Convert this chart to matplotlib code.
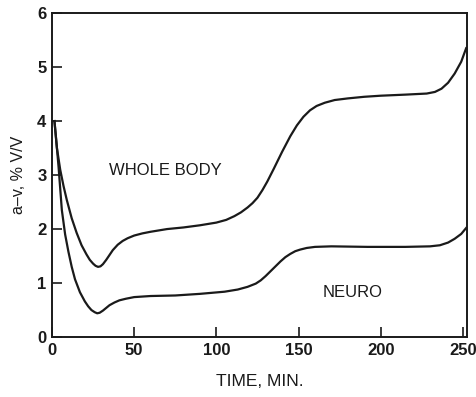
import matplotlib
matplotlib.use('Agg')
import matplotlib.pyplot as plt

# values
whole_t = [1.5, 3, 5, 7, 9, 12, 15, 18, 21, 23, 25, 26.5, 28, 29.5, 31, 33, 35, 37,
           40, 43, 46, 50, 55, 60, 70, 80, 90, 100, 106, 111, 115, 119, 122, 125,
           128, 131, 135, 140, 145, 149, 153, 157, 161, 166, 172, 180, 190, 200,
           215, 228, 233, 237, 241, 245, 249, 252]
whole_av = [4.0, 3.5, 3.1, 2.8, 2.54, 2.2, 1.93, 1.7, 1.53, 1.43, 1.36, 1.32, 1.3, 1.31,
            1.35, 1.43, 1.52, 1.61, 1.71, 1.78, 1.83, 1.88, 1.92, 1.95, 2.0, 2.03,
            2.07, 2.12, 2.17, 2.24, 2.31, 2.4, 2.48, 2.58, 2.72, 2.88, 3.12, 3.43,
            3.72, 3.92, 4.08, 4.2, 4.28, 4.34, 4.39, 4.42, 4.45, 4.47, 4.49, 4.51,
            4.54, 4.6, 4.71, 4.88, 5.1, 5.35]

neuro_t = [1.5, 3, 4, 6, 8, 10, 12, 14, 17, 20, 22, 24, 26, 27.5, 29, 31, 33, 35, 38,
           41, 45, 50, 60, 75, 90, 105, 113, 119, 124, 127, 130, 133, 136, 139, 142,
           145, 148, 151, 155, 160, 170, 192, 215, 230, 236, 241, 245, 249, 252]
neuro_av = [4.0, 3.5, 3.15, 2.35, 1.9, 1.58, 1.3, 1.07, 0.83, 0.66, 0.57, 0.5, 0.46,
            0.44, 0.45, 0.49, 0.54, 0.59, 0.64, 0.68, 0.71, 0.74, 0.76, 0.77, 0.8,
            0.84, 0.88, 0.93, 0.99, 1.05, 1.13, 1.22, 1.31, 1.4, 1.48, 1.54, 1.59,
            1.62, 1.65, 1.67, 1.68, 1.67, 1.67, 1.68, 1.7, 1.75, 1.82, 1.91, 2.02]

x_ticks = [0, 50, 100, 150, 200, 250]
y_ticks = [0, 1, 2, 3, 4, 5, 6]

plt.rcParams['font.family'] = ['Liberation Sans', 'DejaVu Sans']

fig = plt.figure(figsize=(4.77, 3.97), dpi=100)
ax = fig.add_axes([0.109, 0.151, 0.870, 0.816])

ax.plot(whole_t, whole_av, color='#1a1a1a', lw=1.6, solid_joinstyle='round')
ax.plot(neuro_t, neuro_av, color='#1a1a1a', lw=1.6, solid_joinstyle='round')

ax.set_xlim(0, 252.5)
ax.set_ylim(0, 6)
ax.set_xticks(x_ticks)
ax.set_yticks(y_ticks)
ax.tick_params(direction='in', length=7, width=1.2, labelsize=12, colors='#1a1a1a', pad=4)
for lab in ax.get_xticklabels() + ax.get_yticklabels():
    lab.set_fontweight('bold')
for s in ax.spines.values():
    s.set_linewidth(1.4)
    s.set_color('#1a1a1a')

ax.text(69, 3.09, 'WHOLE BODY', ha='center', va='center', fontsize=12, color='#1a1a1a')
ax.text(183, 0.83, 'NEURO', ha='center', va='center', fontsize=12, color='#1a1a1a')

ax.set_xlabel('TIME, MIN.', fontsize=12.5, color='#1a1a1a', labelpad=12)
ax.set_ylabel('a\u2013v, % V/V', fontsize=11.5, color='#1a1a1a', labelpad=8)

fig.savefig('out.png', dpi=100)
